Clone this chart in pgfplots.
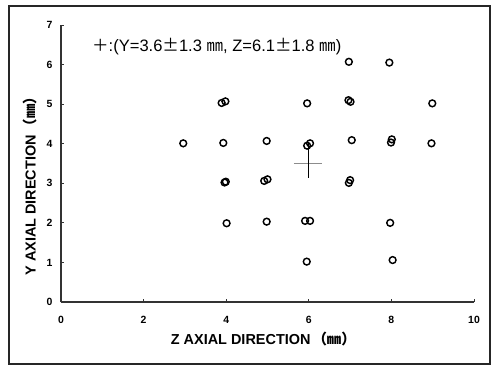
\documentclass[border=0pt]{standalone}
\usepackage{pgfplots}
\pgfplotsset{compat=1.18}
\usepackage{fontspec}
\setmainfont{Liberation Sans}
\newfontfamily\cjk{Noto Sans CJK JP}
\begin{document}
\begin{tikzpicture}
\useasboundingbox (-61bp,-64bp) rectangle (434bp,302bp);
\begin{axis}[
  name=ax,
  scale only axis,
  width=413bp, height=277bp,
  xmin=0, xmax=10, ymin=0, ymax=7,
  axis x line=bottom, axis y line=left,
  x axis line style={-, line width=1.1bp, black!80},
  y axis line style={-, line width=1.1bp, black!80},
  xtick={0,2,4,6,8,10}, ytick={0,1,2,3,4,5,6,7},
  tick align=inside, major tick length=3bp,
  tick style={black!80, line width=0.8bp},
  /pgf/number format/assume math mode=true,
  ticklabel style={font=\fontsize{10.5}{11}\selectfont\bfseries},
  xticklabel style={yshift=-10.5bp},
  yticklabel style={xshift=-5bp},
  xlabel={Z AXIAL DIRECTION\hspace{2bp}{\cjk （㎜）}},
  ylabel={Y AXIAL DIRECTION\hspace{2bp}{\cjk （㎜）}},
  xlabel style={at={(rel axis cs:0.49,-0.1336)}, anchor=center, font=\fontsize{14.5}{15}\selectfont\bfseries},
  ylabel style={at={(rel axis cs:-0.075,0.431)}, anchor=center, font=\fontsize{14.5}{15}\selectfont\bfseries},
  clip=false,
]
\addplot[only marks, mark=o, mark size=3.4bp, line width=1.45bp, black] coordinates {
(2.96,4.01)
(3.89,5.03) (3.98,5.07)
(3.93,4.02)
(3.96,3.02) (3.99,3.04)
(4.01,1.99)
(4.98,4.07)
(4.92,3.06) (5.00,3.10)
(4.98,2.03)
(5.96,5.02)
(5.96,3.95) (6.03,4.01)
(5.91,2.05) (6.03,2.05)
(5.95,1.02)
(6.97,6.07)
(6.96,5.10) (7.01,5.06)
(7.04,4.09)
(7.00,3.08) (6.97,3.01)
(7.95,6.05)
(8.01,4.11) (7.99,4.03)
(7.97,2.00)
(8.03,1.06)
(8.99,5.02)
(8.97,4.01)
};
\addplot[black!45, line width=1bp] coordinates {(5.64,3.51) (6.32,3.51)};
\addplot[black, line width=0.9bp] coordinates {(5.98,4.02) (5.98,3.13)};
\node[anchor=base west, inner sep=0pt, font=\fontsize{16.6}{17}\selectfont] at (axis cs:0.75,6.34)
  {{\cjk ＋}:(Y=3.6{\cjk ±}1.3 {\cjk ㎜}, Z=6.1{\cjk ±}1.8 {\cjk ㎜})};
\end{axis}
\draw[line width=1.1bp, black!85] (-52bp,-62bp) rectangle (429bp,296bp);
\end{tikzpicture}
\end{document}
